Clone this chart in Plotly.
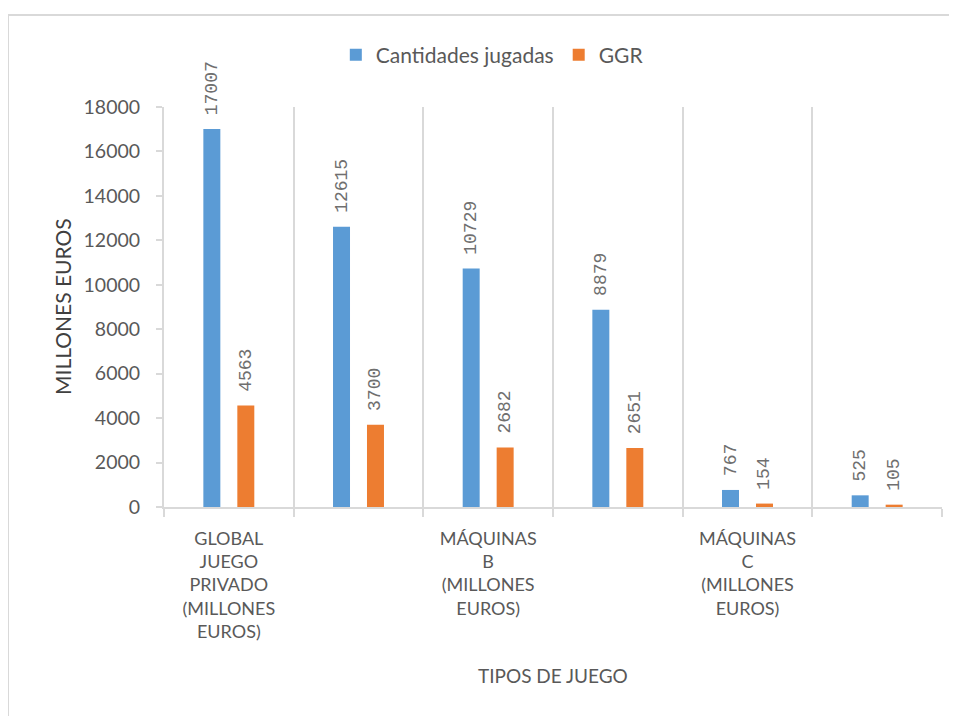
import plotly.graph_objects as go

# Data
categories = [
    "GLOBAL<br>JUEGO<br>PRIVADO<br>(MILLONES<br>EUROS)",
    "",
    "MÁQUINAS<br>B<br>(MILLONES<br>EUROS)",
    "",
    "MÁQUINAS<br>C<br>(MILLONES<br>EUROS)",
    "",
]
cantidades = [17007, 12615, 10729, 8879, 767, 525]
ggr = [4563, 3700, 2682, 2651, 154, 105]
series_names = ["Cantidades jugadas", "GGR"]
y_ticks = [0, 2000, 4000, 6000, 8000, 10000, 12000, 14000, 16000, 18000]

x = list(range(len(categories)))
shown = [i for i, c in enumerate(categories) if c]

BLUE = "#5b9bd5"
ORANGE = "#ed7d31"
GREY = "#595959"
GRID = "#d9d9d9"
FONT = "Lato"

fig = go.Figure()
for name, vals, col in [(series_names[0], cantidades, BLUE), (series_names[1], ggr, ORANGE)]:
    fig.add_trace(go.Bar(
        x=x, y=vals, name=name, marker=dict(color=col, line=dict(width=0)),
        text=["\u00a0" + str(v) for v in vals], textposition="outside", textangle=-90,
        constraintext="none",
        textfont=dict(family="Liberation Mono", size=18, color="#6f6f6f"),
        cliponaxis=False,
    ))

fig.update_layout(
    width=957, height=716,
    margin=dict(l=156, r=23, t=99, b=217),
    paper_bgcolor="white", plot_bgcolor="white",
    barmode="group", bargap=0.476, bargroupgap=0.5,
    font=dict(family=FONT, color=GREY),
    legend=dict(orientation="h", x=0.422, xanchor="center", y=1.13, yanchor="middle",
                font=dict(size=21, color=GREY), itemwidth=30, traceorder="normal"),
    showlegend=True,
)
fig.update_xaxes(
    range=[-0.5, len(categories) - 0.5],
    tickmode="array", tickvals=shown, ticktext=[categories[i] for i in shown],
    ticks="", showgrid=False, showline=True, linecolor=GRID, linewidth=2,
    tickfont=dict(size=18, color=GREY, family=FONT), ticklabelstandoff=14,
    minor=dict(tickvals=[i - 0.5 for i in range(len(categories) + 1)],
               ticks="outside", ticklen=8, tickcolor=GRID, tickwidth=2,
               showgrid=True, gridcolor=GRID, gridwidth=2),
    zeroline=False, automargin=False,
)
fig.update_yaxes(
    range=[0, 18000], tickmode="array", tickvals=y_ticks, tickformat="d",
    showgrid=False, showline=True, linecolor=GRID, linewidth=2,
    ticks="outside", ticklen=6, tickcolor=GRID, tickwidth=2, ticklabelstandoff=12,
    tickfont=dict(size=19.5, color=GREY, family=FONT), zeroline=False, automargin=False,
)
# Axis titles
fig.add_annotation(text="MILLONES EUROS", xref="paper", yref="paper",
                   x=(62 - 164) / 778, y=0.5, textangle=-90, showarrow=False,
                   xanchor="center", yanchor="middle",
                   font=dict(size=21, color="#404040", family=FONT))
fig.add_annotation(text="TIPOS DE JUEGO", xref="paper", yref="paper",
                   x=0.5, y=(507 - 675) / 400, showarrow=False,
                   xanchor="center", yanchor="middle",
                   font=dict(size=19, color=GREY, family=FONT))
# Outer chart border
fig.add_shape(type="rect", xref="paper", yref="paper",
              x0=(8 - 164) / 778, x1=(962 - 164) / 778,
              y0=(507 - 730) / 400, y1=(507 - 15) / 400,
              line=dict(color=GRID, width=2), fillcolor="rgba(0,0,0,0)", layer="below")

fig.write_html("out.html")
